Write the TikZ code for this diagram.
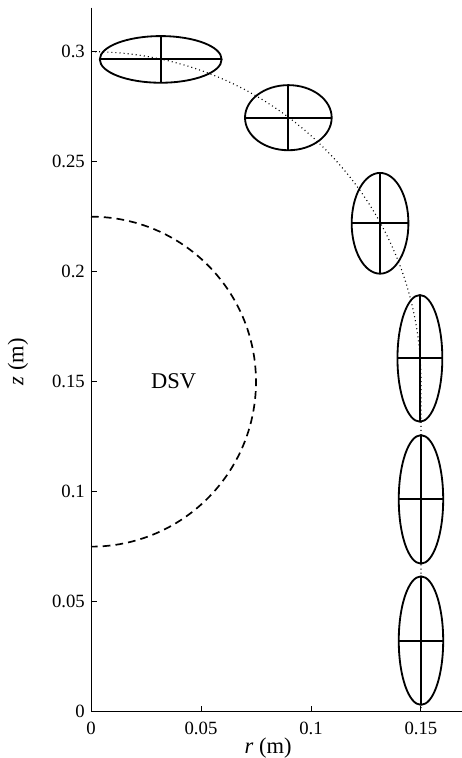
\documentclass[tikz,border=0pt]{standalone}
\usepackage{fontspec}
\setmainfont{Liberation Serif}
\usetikzlibrary{positioning}

\begin{document}
\begin{tikzpicture}[
  x=55cm,y=55cm,
  font=\fontsize{13.3}{16}\selectfont,
  axis/.style={line width=0.7pt},
  tickmark/.style={line width=0.7pt},
  ticklabel/.style={inner sep=0pt},
  biglabel/.style={font=\fontsize{16}{19}\selectfont},
  coil/.style={line width=1.3pt},
  track/.style={line width=0.8pt,dash pattern=on 0.7pt off 2.2pt},
  dsv/.style={line width=1.2pt,dash pattern=on 5.5pt off 3.6pt}
]

% ===== Frame =====
\useasboundingbox (-0.04136,-0.02105) rectangle (0.16864,0.3235);
\coordinate (O) at (0,0);
\coordinate (ytop) at (0,0.3200);
\coordinate (xend) at (0.16864,0);

% ===== Axes =====
\draw[axis] (ytop) -- (O) -- (xend);
\foreach \zt/\lab in {0/0,0.05/0.05,0.1/0.1,0.15/0.15,0.2/0.2,0.25/0.25,0.3/0.3} {
  \draw[tickmark] (0,\zt) -- ++(0.0026,0);
  \node[ticklabel,anchor=east] (zl\lab) at (-0.0027,\zt) {\lab};
}
\foreach \rt/\lab in {0/0,0.05/0.05,0.1/0.1,0.15/0.15} {
  \draw[tickmark] (\rt,0) -- ++(0,0.0026);
  \node[ticklabel,anchor=north] (rl\lab) at (\rt,-0.0047) {\lab};
}
\node[biglabel] (rlabel) at (0.0805,-0.0165) {\textit{r} (m)};
\node[biglabel,rotate=90] (zlabel) at (-0.0332,0.159) {\textit{z} (m)};

% ===== Coil path and DSV =====
\draw[track] (0,0.3) arc[start angle=90,end angle=0,radius=0.15] -- (0.15,0);
\draw[dsv] (0,0.225) arc[start angle=90,end angle=-90,radius=0.075];
\node[biglabel] (dsvlabel) at (0.0375,0.15) {DSV};

% ===== Coil cross sections =====
\foreach \px/\pz/\ax/\az in {0.0317/0.2965/0.0277/0.0106,
                             0.0897/0.2700/0.0197/0.0148,
                             0.1314/0.2220/0.0129/0.0229,
                             0.1495/0.1606/0.0102/0.0288,
                             0.1500/0.0965/0.0101/0.0292,
                             0.1500/0.0323/0.0101/0.0292} {
  \draw[coil] (\px,\pz) ellipse[x radius=\ax,y radius=\az];
  \draw[coil] (\px-\ax,\pz) -- (\px+\ax,\pz);
  \draw[coil] (\px,\pz-\az) -- (\px,\pz+\az);
}

\end{tikzpicture}
\end{document}
